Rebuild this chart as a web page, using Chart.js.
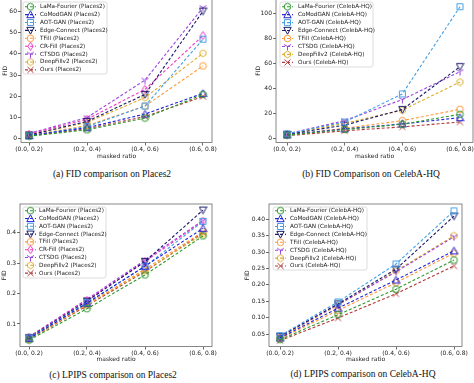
<!DOCTYPE html>
<html>
<head>
<meta charset="utf-8">
<script src="https://cdn.jsdelivr.net/npm/chart.js@4.4.0/dist/chart.umd.min.js"></script>
<style>
  body { margin: 0; width: 474px; height: 383px; overflow: hidden; background: #fff; position: relative; }
  canvas { position: absolute; }
  .cap { position: absolute; font-family: "Liberation Serif", "DejaVu Serif", serif; font-size: 9.5px; color: #111;
         white-space: nowrap; transform: translate(-50%, -50%); }
</style>
</head>
<body>
<canvas id="fidPlaces"></canvas>
<canvas id="fidCeleba"></canvas>
<canvas id="lpipsPlaces"></canvas>
<canvas id="lpipsCeleba"></canvas>
<div class="cap" style="left:112px;top:174px">(a) FID comparison on Places2</div>
<div class="cap" style="left:371px;top:174px">(b) FID Comparison on CelebA-HQ</div>
<div class="cap" style="left:113px;top:375px">(c) LPIPS comparison on Places2</div>
<div class="cap" style="left:363px;top:374px">(d) LPIPS comparison on CelebA-HQ</div>
<script>
const ratios = ['(0.0, 0.2)', '(0.2, 0.4)', '(0.4, 0.6)', '(0.6, 0.8)'];

// (a) FID, Places2
const fidPlacesLama     = [1.0, 4.0, 9.6, 20.8];
const fidPlacesComod    = [1.3, 5.0, 11.5, 21.3];
const fidPlacesAot      = [1.2, 5.5, 15.3, 47.0];
const fidPlacesEdge     = [1.5, 8.0, 20.8, 60.3];
const fidPlacesTfill    = [1.3, 6.0, 15.3, 34.3];
const fidPlacesCrfill   = [2.0, 9.0, 23.2, 48.7];
const fidPlacesCtsdg    = [2.3, 9.8, 27.6, 62.0];
const fidPlacesDeepfill = [1.6, 7.5, 19.3, 40.3];
const fidPlacesOurs     = [1.0, 4.5, 10.3, 19.8];

// (b) FID, CelebA-HQ
const fidCelebaLama     = [2.5, 7.0, 11.2, 19.2];
const fidCelebaComod    = [2.8, 7.5, 11.5, 16.5];
const fidCelebaAot      = [3.5, 13.0, 35.5, 105.3];
const fidCelebaEdge     = [3.0, 10.5, 23.0, 57.3];
const fidCelebaTfill    = [2.5, 8.0, 14.1, 23.2];
const fidCelebaCtsdg    = [3.5, 14.1, 31.0, 53.3];
const fidCelebaDeepfill = [3.0, 12.0, 22.5, 45.0];
const fidCelebaOurs     = [2.0, 6.0, 9.1, 13.0];

// (c) LPIPS, Places2
const lpipsPlacesLama     = [0.047, 0.150, 0.261, 0.389];
const lpipsPlacesComod    = [0.052, 0.168, 0.290, 0.414];
const lpipsPlacesAot      = [0.054, 0.170, 0.289, 0.437];
const lpipsPlacesEdge     = [0.055, 0.175, 0.305, 0.474];
const lpipsPlacesTfill    = [0.050, 0.163, 0.280, 0.403];
const lpipsPlacesCrfill   = [0.057, 0.178, 0.305, 0.438];
const lpipsPlacesCtsdg    = [0.058, 0.181, 0.310, 0.440];
const lpipsPlacesDeepfill = [0.051, 0.165, 0.275, 0.395];
const lpipsPlacesOurs     = [0.050, 0.160, 0.272, 0.400];

// (d) LPIPS, CelebA-HQ
const lpipsCelebaLama     = [0.033, 0.109, 0.187, 0.276];
const lpipsCelebaComod    = [0.038, 0.129, 0.215, 0.304];
const lpipsCelebaAot      = [0.045, 0.148, 0.264, 0.426];
const lpipsCelebaEdge     = [0.043, 0.142, 0.248, 0.410];
const lpipsCelebaTfill    = [0.036, 0.122, 0.207, 0.297];
const lpipsCelebaCtsdg    = [0.042, 0.140, 0.240, 0.347];
const lpipsCelebaDeepfill = [0.040, 0.138, 0.243, 0.350];
const lpipsCelebaOurs     = [0.030, 0.099, 0.173, 0.258];

const fidPlacesTicks = [0, 10, 20, 30, 40, 50, 60];
const fidCelebaTicks = [0, 20, 40, 60, 80, 100];
const lpipsPlacesTicks = [0.1, 0.2, 0.3, 0.4];
const lpipsCelebaTicks = [0.05, 0.10, 0.15, 0.20, 0.25, 0.30, 0.35, 0.40];

const colors = {
  'LaMa-Fourier': '#2f9a2f', 'CoModGAN': '#2323d8', 'AOT-GAN': '#45a0e6', 'Edge-Connect': '#1a1a6a',
  'TFill': '#ff9a3a', 'CR-Fill': '#ec3cc0', 'CTSDG': '#9a44e0', 'DeepFillv2': '#dcae2e', 'Ours': '#b03838'
};
const markerKind = {
  'LaMa-Fourier': 'o', 'CoModGAN': '^', 'AOT-GAN': 's', 'Edge-Connect': 'v',
  'TFill': 'o', 'CR-Fill': 'd', 'CTSDG': '1', 'DeepFillv2': 'h', 'Ours': 'x'
};

const tickFont = { family: 'DejaVu Sans', size: 6 };

// hollow matplotlib-like markers as small canvases
function markerCanvas(kind, color) {
  const c = document.createElement('canvas');
  c.width = 9; c.height = 9;
  const g = c.getContext('2d');
  g.strokeStyle = color;
  g.lineWidth = 1;
  const m = 4.5;
  g.beginPath();
  if (kind === 'o') g.arc(m, m, 3.3, 0, Math.PI * 2);
  else if (kind === '^') { g.moveTo(m, 0.8); g.lineTo(8.2, 7.6); g.lineTo(0.8, 7.6); g.closePath(); }
  else if (kind === 'v') { g.moveTo(0.8, 1.4); g.lineTo(8.2, 1.4); g.lineTo(m, 8.2); g.closePath(); }
  else if (kind === 's') g.rect(1.5, 1.5, 6, 6);
  else if (kind === 'd') { g.moveTo(m, 0.5); g.lineTo(7.2, m); g.lineTo(m, 8.5); g.lineTo(1.8, m); g.closePath(); }
  else if (kind === '1') { g.moveTo(m, m); g.lineTo(m, 8.5); g.moveTo(m, m); g.lineTo(1, 2.5); g.moveTo(m, m); g.lineTo(8, 2.5); }
  else if (kind === 'h') {
    for (let k = 0; k < 6; k++) {
      const a = Math.PI / 6 + k * Math.PI / 3;
      const px = m + 3.4 * Math.cos(a), py = m + 3.4 * Math.sin(a);
      if (k === 0) g.moveTo(px, py); else g.lineTo(px, py);
    }
    g.closePath();
  }
  else if (kind === 'x') { g.moveTo(1.5, 1.5); g.lineTo(7.5, 7.5); g.moveTo(7.5, 1.5); g.lineTo(1.5, 7.5); }
  g.stroke();
  return c;
}

const framePlugin = {
  id: 'frame',
  afterDatasetsDraw(chart) {
    const a = chart.chartArea, ctx = chart.ctx;
    ctx.save();
    ctx.strokeStyle = '#6a6a6a';
    ctx.lineWidth = 0.8;
    ctx.strokeRect(a.left, a.top, a.right - a.left, a.bottom - a.top);
    ctx.restore();
  }
};

function legendPlugin(p) {
  return {
    id: 'boxLegend',
    afterDraw(chart) {
      const ctx = chart.ctx, L = p.legend;
      const ox = p.left, oy = p.top;
      ctx.save();
      ctx.fillStyle = 'rgba(255,255,255,0.85)';
      ctx.strokeStyle = '#d4d4d4';
      ctx.lineWidth = 0.8;
      ctx.beginPath();
      ctx.roundRect(L.x0 - ox, L.y0 - oy, L.x1 - L.x0, L.y1 - L.y0, 2);
      ctx.fill();
      ctx.stroke();
      chart.data.datasets.forEach((ds, i) => {
        const y = L.row0 + i * L.gap - oy;
        ctx.setLineDash([3, 2]);
        ctx.strokeStyle = ds.borderColor;
        ctx.lineWidth = 1.1;
        ctx.beginPath();
        ctx.moveTo(L.lx0 - ox, y);
        ctx.lineTo(L.lx1 - ox, y);
        ctx.stroke();
        ctx.setLineDash([]);
        const mk = ds.pointStyle;
        ctx.drawImage(mk, (L.lx0 + L.lx1) / 2 - ox - mk.width / 2, y - mk.height / 2);
        ctx.fillStyle = '#222';
        ctx.font = '5.7px "DejaVu Sans"';
        ctx.textBaseline = 'middle';
        ctx.fillText(ds.label, L.tx - ox, y);
      });
      ctx.restore();
    }
  };
}

function drawPanel(id, p) {
  const cv = document.getElementById(id);
  cv.width = p.w; cv.height = p.h;
  cv.style.left = p.left + 'px';
  cv.style.top = p.top + 'px';
  const step = (p.cat3 - p.cat0) / 3;

  const datasets = p.series.map(([name, vals]) => ({
    label: name + ' (' + p.suffix + ')',
    data: vals.map((v, i) => ({ x: i, y: v })),
    borderColor: colors[name],
    borderWidth: 1.1,
    borderDash: [3, 2],
    pointStyle: markerCanvas(markerKind[name], colors[name]),
    pointRadius: 4,
    fill: false,
    tension: 0
  }));

  new Chart(cv, {
    type: 'line',
    data: { datasets },
    options: {
      responsive: false,
      animation: false,
      events: [],
      layout: { padding: { left: 0, right: p.left + p.w - p.area.r, top: p.area.t - p.top, bottom: 0 } },
      plugins: { legend: { display: false }, tooltip: { enabled: false } },
      scales: {
        x: {
          type: 'linear',
          min: -(p.cat0 - p.area.l) / step,
          max: 3 + (p.area.r - p.cat3) / step,
          afterBuildTicks: s => { s.ticks = ratios.map((_, i) => ({ value: i })); },
          afterFit: s => { s.height = p.top + p.h - p.area.b; },
          ticks: { callback: v => ratios[v], font: tickFont, color: '#222', padding: 0, maxRotation: 0, autoSkip: false },
          grid: { drawOnChartArea: false, drawTicks: true, tickLength: 3, color: '#444', lineWidth: 0.8 },
          border: { display: false },
          title: { display: true, text: 'masked ratio', font: tickFont, color: '#222',
                   padding: { top: 0, bottom: p.top + p.h - p.xTitleY - 3.6 } }
        },
        y: {
          min: p.ymin,
          max: p.ymax,
          afterBuildTicks: s => { s.ticks = p.yTicks.map(v => ({ value: v })); },
          afterFit: s => { s.width = p.area.l - p.left; },
          ticks: { callback: v => v.toFixed(p.dec), font: tickFont, color: '#222', padding: 1 },
          grid: { drawOnChartArea: false, drawTicks: true, tickLength: 3, color: '#444', lineWidth: 0.8 },
          border: { display: false },
          title: { display: true, text: 'FID', font: tickFont, color: '#222',
                   padding: { top: p.yTitleX - p.left - 3.6, bottom: 0 } }
        }
      }
    },
    plugins: [framePlugin, legendPlugin(p)]
  });
}

drawPanel('fidPlaces', {
  left: 0, top: -6, w: 237, h: 171,
  area: { l: 21, r: 212, t: -1, b: 142.5 }, cat0: 29, cat3: 203,
  ymin: -2.0, ymax: 66.0, yTicks: fidPlacesTicks, dec: 0, yTitleX: 5, xTitleY: 156,
  suffix: 'Places2',
  series: [['LaMa-Fourier', fidPlacesLama], ['CoModGAN', fidPlacesComod], ['AOT-GAN', fidPlacesAot],
           ['Edge-Connect', fidPlacesEdge], ['TFill', fidPlacesTfill], ['CR-Fill', fidPlacesCrfill],
           ['CTSDG', fidPlacesCtsdg], ['DeepFillv2', fidPlacesDeepfill], ['Ours', fidPlacesOurs]],
  legend: { x0: 23, y0: 2, x1: 107, y1: 74, row0: 6.7, gap: 7.9, lx0: 25, lx1: 36, tx: 40 }
});

drawPanel('fidCeleba', {
  left: 237, top: -6, w: 260, h: 171,
  area: { l: 276, r: 473, t: -1, b: 142.5 }, cat0: 287, cat3: 460,
  ymin: -3.4, ymax: 111.4, yTicks: fidCelebaTicks, dec: 0, yTitleX: 258.5, xTitleY: 156,
  suffix: 'CelebA-HQ',
  series: [['LaMa-Fourier', fidCelebaLama], ['CoModGAN', fidCelebaComod], ['AOT-GAN', fidCelebaAot],
           ['Edge-Connect', fidCelebaEdge], ['TFill', fidCelebaTfill], ['CTSDG', fidCelebaCtsdg],
           ['DeepFillv2', fidCelebaDeepfill], ['Ours', fidCelebaOurs]],
  legend: { x0: 280, y0: 2, x1: 373, y1: 67, row0: 6.7, gap: 7.95, lx0: 282, lx1: 293, tx: 298 }
});

drawPanel('lpipsPlaces', {
  left: 0, top: 190, w: 237, h: 175,
  area: { l: 20, r: 212, t: 204, b: 346.5 }, cat0: 29, cat3: 203,
  ymin: 0.026, ymax: 0.494, yTicks: lpipsPlacesTicks, dec: 1, yTitleX: 4, xTitleY: 359,
  suffix: 'Places2',
  series: [['LaMa-Fourier', lpipsPlacesLama], ['CoModGAN', lpipsPlacesComod], ['AOT-GAN', lpipsPlacesAot],
           ['Edge-Connect', lpipsPlacesEdge], ['TFill', lpipsPlacesTfill], ['CR-Fill', lpipsPlacesCrfill],
           ['CTSDG', lpipsPlacesCtsdg], ['DeepFillv2', lpipsPlacesDeepfill], ['Ours', lpipsPlacesOurs]],
  legend: { x0: 23, y0: 207, x1: 106, y1: 278, row0: 210.7, gap: 7.8, lx0: 25, lx1: 36, tx: 39 }
});

drawPanel('lpipsCeleba', {
  left: 237, top: 190, w: 237, h: 175,
  area: { l: 269, r: 462, t: 204, b: 346.5 }, cat0: 280, cat3: 454,
  ymin: 0.012, ymax: 0.447, yTicks: lpipsCelebaTicks, dec: 2, yTitleX: 247, xTitleY: 359,
  suffix: 'CelebA-HQ',
  series: [['LaMa-Fourier', lpipsCelebaLama], ['CoModGAN', lpipsCelebaComod], ['AOT-GAN', lpipsCelebaAot],
           ['Edge-Connect', lpipsCelebaEdge], ['TFill', lpipsCelebaTfill], ['CTSDG', lpipsCelebaCtsdg],
           ['DeepFillv2', lpipsCelebaDeepfill], ['Ours', lpipsCelebaOurs]],
  legend: { x0: 273, y0: 207, x1: 367, y1: 270, row0: 210.7, gap: 7.9, lx0: 275, lx1: 286, tx: 290 }
});
</script>
</body>
</html>
